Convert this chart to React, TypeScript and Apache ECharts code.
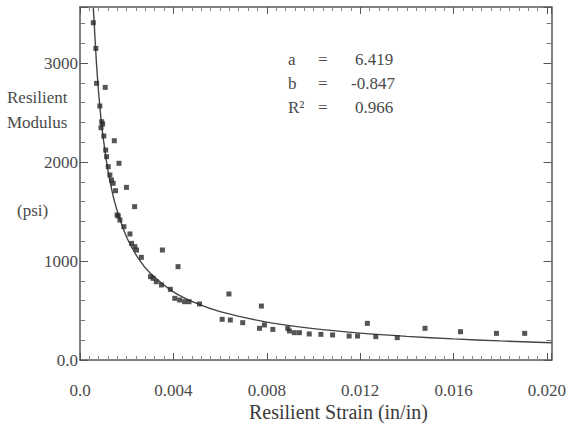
import React, { useEffect, useRef } from "react";
import * as echarts from "echarts";

// Measured points (strain in/in, resilient modulus psi)
const strainValues = [
  0.00057, 0.00068, 0.00071, 0.00108, 0.00085, 0.00093, 0.00097, 0.0009, 0.00102, 0.00147,
  0.0011, 0.00114, 0.00167, 0.00121, 0.00128, 0.00135, 0.00142, 0.00152, 0.00199, 0.00234,
  0.00164, 0.00159, 0.00171, 0.00188, 0.00214, 0.00221, 0.00235, 0.00242, 0.00353, 0.00263,
  0.0042, 0.00302, 0.00313, 0.00327, 0.00349, 0.00387, 0.00406, 0.00427, 0.00448, 0.00467,
  0.00512, 0.00638, 0.00609, 0.00644, 0.00697, 0.00777, 0.00769, 0.0079, 0.00826, 0.0089,
  0.00918, 0.00897, 0.0094, 0.00982, 0.01032, 0.01082, 0.01153, 0.01189, 0.01231, 0.01267,
  0.01359, 0.01478, 0.0163, 0.01784, 0.01905,
];
const modulusValues = [
  3407, 3148, 2795, 2754, 2566, 2407, 2384, 2347, 2263, 2215,
  2121, 2054, 1987, 1953, 1869, 1818, 1785, 1710, 1744, 1549,
  1455, 1465, 1414, 1347, 1273, 1178, 1145, 1111, 1111, 1037,
  943, 842, 825, 791, 758, 714, 623, 606, 589, 589,
  566, 667, 411, 404, 377, 545, 320, 354, 309, 320,
  276, 293, 276, 263, 259, 253, 242, 242, 370, 236,
  226, 320, 286, 269, 269,
];

// Fitted curve
const fitStrain = [0.00057, 0.0006, 0.0007, 0.0008, 0.0009, 0.001, 0.0012, 0.0015, 0.002, 0.0025, 0.003, 0.004, 0.005, 0.006, 0.008, 0.01, 0.012, 0.014, 0.016, 0.018, 0.0202];
const fitModulus = [3560, 3438, 3017, 2695, 2439, 2233, 1912, 1582, 1240, 1026, 879, 689, 571, 489, 383, 317, 272, 239, 213, 193, 175];

const xTickLabels = ["0.0", "0.004", "0.008", "0.012", "0.016", "0.020"];
const yTickLabels = ["0.0", "1000", "2000", "3000"];
const fitParams = [
  { name: "a", value: "6.419" },
  { name: "b", value: "-0.847" },
  { name: "R²", value: "0.966" },
];

const FONT = "'Liberation Serif', 'DejaVu Serif', serif";
const TEXT = "#4a4a4a";
const AXIS = "#555555";

export default function App() {
  const ref = useRef<HTMLDivElement>(null);
  useEffect(() => {
    if (!ref.current) return;
    const chart = echarts.init(ref.current, null, { renderer: "svg" });
    const xFmt = (v: number) => {
      const i = Math.round(v / 0.004);
      return Math.abs(v - i * 0.004) < 1e-9 && i < xTickLabels.length ? xTickLabels[i] : "";
    };
    const yFmt = (v: number) => {
      const i = Math.round(v / 1000);
      return Math.abs(v - i * 1000) < 1e-6 && i < yTickLabels.length ? yTickLabels[i] : "";
    };
    const axisLine = { show: true, onZero: false, lineStyle: { color: AXIS, width: 1.5 } };
    const xBase = { type: "value", min: 0, max: 0.0202, interval: 0.004, splitLine: { show: false } };
    const yBase = { type: "value", min: 0, max: 3566, interval: 1000, splitLine: { show: false } };
    const paramsGraphic: any[] = [];
    fitParams.forEach((p, i) => {
      const y = 60 + i * 24;
      paramsGraphic.push(
        { type: "text", left: 288, top: y - 9, style: { text: p.name, font: `17px ${FONT}`, fill: TEXT } },
        { type: "text", left: 318, top: y - 9, style: { text: "=", font: `17px ${FONT}`, fill: TEXT } },
        { type: "text", left: p.value.startsWith("-") ? 351 : 355, top: y - 9, style: { text: p.value, font: `17px ${FONT}`, fill: TEXT } }
      );
    });
    chart.setOption({
      animation: false,
      backgroundColor: "#ffffff",
      grid: { left: 80, right: 16, top: 7, bottom: 75, containLabel: false },
      xAxis: [
        {
          ...xBase,
          position: "bottom",
          axisLine,
          axisTick: { show: true, inside: true, length: 7, lineStyle: { color: AXIS } },
          minorTick: { show: true, splitNumber: 10, length: 4, lineStyle: { color: "#888" } },
          axisLabel: { formatter: xFmt, margin: 22, fontFamily: FONT, fontSize: 17, color: TEXT, showMaxLabel: false },
        },
        {
          ...xBase,
          position: "top",
          axisLine,
          axisTick: { show: true, inside: true, length: 7, lineStyle: { color: AXIS } },
          minorTick: { show: true, splitNumber: 10, length: 4, lineStyle: { color: "#888" } },
          axisLabel: { show: false },
        },
      ],
      yAxis: [
        {
          ...yBase,
          position: "left",
          axisLine,
          axisTick: { show: true, inside: true, length: 8, lineStyle: { color: AXIS } },
          minorTick: { show: true, splitNumber: 5, length: 5, lineStyle: { color: "#777" } },
          axisLabel: { formatter: yFmt, margin: 2, fontFamily: FONT, fontSize: 17, color: TEXT, showMaxLabel: false },
        },
        {
          ...yBase,
          position: "right",
          axisLine,
          axisTick: { show: true, inside: true, length: 8, lineStyle: { color: AXIS } },
          minorTick: { show: true, splitNumber: 5, length: 5, lineStyle: { color: "#777" } },
          axisLabel: { show: false },
        },
      ],
      series: [
        {
          type: "line",
          xAxisIndex: 0,
          yAxisIndex: 0,
          data: fitStrain.map((x, i) => [x, fitModulus[i]]),
          smooth: 0.3,
          showSymbol: false,
          clip: true,
          lineStyle: { color: "#444", width: 1.4 },
          silent: true,
          z: 2,
        },
        {
          type: "scatter",
          xAxisIndex: 0,
          yAxisIndex: 0,
          data: strainValues.map((x, i) => [x, modulusValues[i]]),
          symbol: "rect",
          symbolSize: 5,
          itemStyle: { color: "#2b2b2b" },
          z: 3,
        },
      ],
      graphic: [
        { type: "text", left: 7, top: 89, style: { text: "Resilient", font: `17px ${FONT}`, fill: TEXT } },
        { type: "text", left: 7, top: 114, style: { text: "Modulus", font: `17px ${FONT}`, fill: TEXT } },
        { type: "text", left: 17, top: 202, style: { text: "(psi)", font: `17px ${FONT}`, fill: TEXT } },
        { type: "text", left: 249, top: 402, style: { text: "Resilient Strain (in/in)", font: `20px ${FONT}`, fill: "#3a3a3a" } },
        ...paramsGraphic,
      ],
    });
    return () => chart.dispose();
  }, []);
  return <div ref={ref} style={{ width: 569, height: 435, position: "absolute", left: 0, top: 0 }} />;
}
